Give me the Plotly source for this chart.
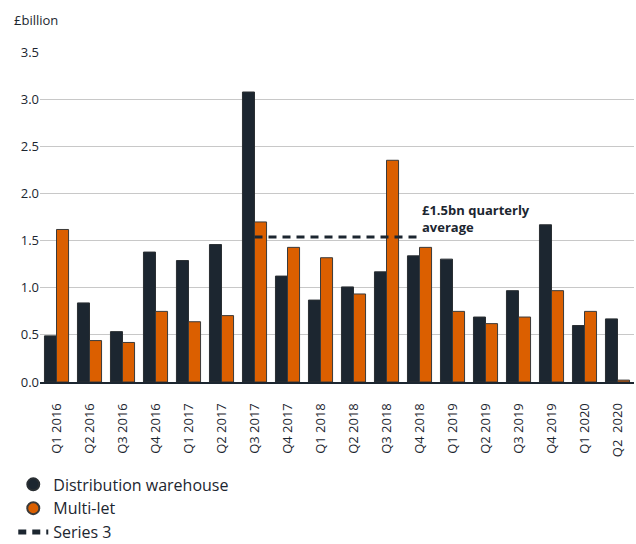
import plotly.graph_objects as go

quarters = [
    "Q1 2016", "Q2 2016", "Q3 2016", "Q4 2016",
    "Q1 2017", "Q2 2017", "Q3 2017", "Q4 2017",
    "Q1 2018", "Q2 2018", "Q3 2018", "Q4 2018",
    "Q1 2019", "Q2 2019", "Q3 2019", "Q4 2019",
    "Q1 2020", "Q2  2020",
]
distribution_warehouse = [
    0.49, 0.84, 0.535, 1.38,
    1.29, 1.46, 3.08, 1.125,
    0.87, 1.01, 1.17, 1.34,
    1.305, 0.69, 0.97, 1.67,
    0.60, 0.67,
]
multi_let = [
    1.62, 0.44, 0.42, 0.75,
    0.64, 0.705, 1.70, 1.43,
    1.32, 0.935, 2.355, 1.43,
    0.75, 0.62, 0.69, 0.97,
    0.75, 0.02,
]
# quarterly average line, spanning Q3 2017 to Q4 2018
avg_quarters = ["Q3 2017", "Q4 2017", "Q1 2018", "Q2 2018", "Q3 2018", "Q4 2018"]
avg_value = 1.54

DARK = "#1c2630"
ORANGE = "#db5f00"
FONT = "Open Sans"

fig = go.Figure()
fig.add_trace(go.Bar(
    x=quarters, y=distribution_warehouse, name="Distribution warehouse",
    marker=dict(color=DARK, line=dict(color="#2a2f33", width=1)),
    showlegend=False,
))
fig.add_trace(go.Bar(
    x=quarters, y=multi_let, name="Multi-let",
    marker=dict(color=ORANGE, line=dict(color="#3a3a3a", width=1)),
    showlegend=False,
))
# legend entries drawn as round markers
fig.add_trace(go.Scatter(
    x=[None], y=[None], mode="markers", name="Distribution warehouse",
    marker=dict(symbol="circle", size=16, color=DARK, line=dict(color="#2a2f33", width=1)),
))
fig.add_trace(go.Scatter(
    x=[None], y=[None], mode="markers", name="Multi-let",
    marker=dict(symbol="circle", size=16, color=ORANGE, line=dict(color="#3a3a3a", width=1)),
))
fig.add_trace(go.Scatter(
    x=avg_quarters, y=[avg_value] * len(avg_quarters), mode="lines", name="Series 3",
    line=dict(color=DARK, width=3, dash="8px,6px"),
))

fig.add_annotation(
    x="Q4 2018", y=avg_value, xref="x", yref="y",
    xshift=0, yshift=-1,
    text=f"<b>£{avg_value:.1f}bn quarterly<br>average</b>",
    showarrow=False, xanchor="left", yanchor="bottom", align="left",
    font=dict(family=FONT, size=13, color=DARK),
)
fig.add_annotation(
    x=0, y=1, xref="paper", yref="paper", xshift=-28, yshift=21,
    text="£billion", showarrow=False, xanchor="left", yanchor="bottom",
    font=dict(family=FONT, size=13, color=DARK),
)

fig.update_layout(
    width=636, height=544,
    margin=dict(l=40, r=2, t=52, b=162, autoexpand=False),
    paper_bgcolor="white", plot_bgcolor="white",
    barmode="group", bargap=0.27, bargroupgap=0,
    font=dict(family=FONT, size=13, color=DARK),
    legend=dict(
        x=-0.045, xanchor="left", y=-0.259, yanchor="top",
        orientation="v", font=dict(family=FONT, size=16, color=DARK),
        itemsizing="constant", tracegroupgap=0,
    ),
)
fig.update_xaxes(
    type="category", tickangle=-90, showgrid=False,
    showline=True, linecolor=DARK, linewidth=2,
    ticks="", ticklabelstandoff=14, automargin=False,
    tickfont=dict(family=FONT, size=13, color=DARK),
)
fig.update_yaxes(
    range=[0, 3.505], dtick=0.5, tickformat=".1f",
    showgrid=True, gridcolor="#c8c8c8", gridwidth=1,
    zeroline=False, ticks="", automargin=False,
    tickfont=dict(family=FONT, size=13, color=DARK),
)

fig.write_html("out.html")
